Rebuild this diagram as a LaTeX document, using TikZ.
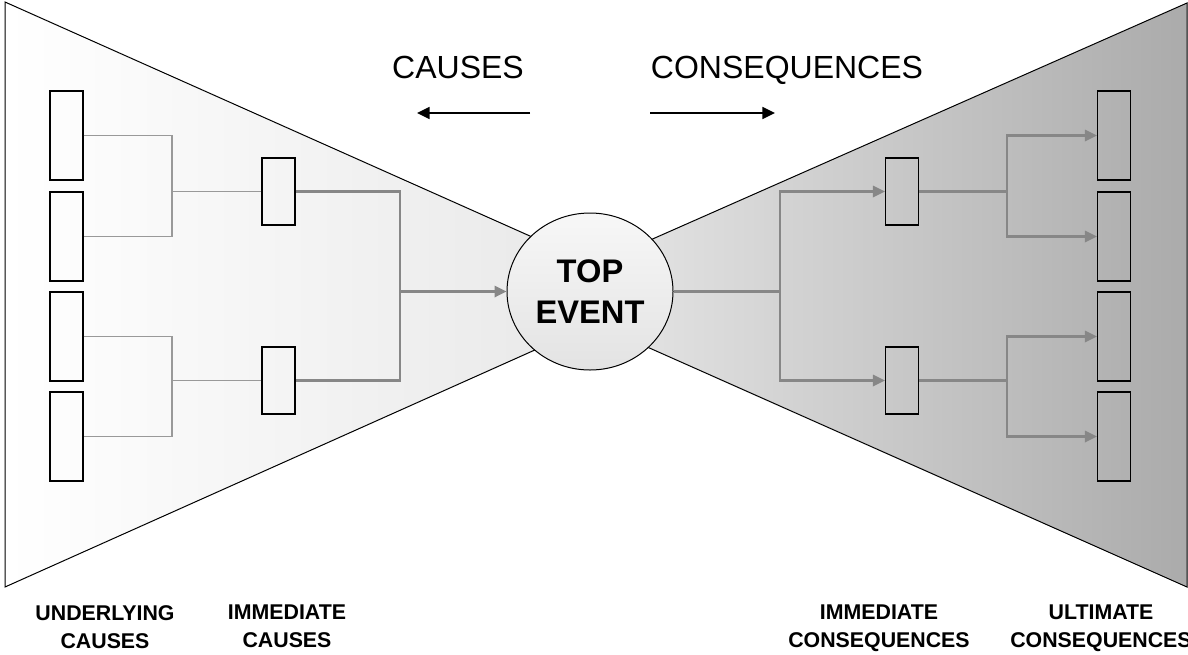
\documentclass[tikz,border=0pt]{standalone}
\usepackage{fontspec}
\setmainfont{Liberation Sans}
\usepackage{tikz}
\usetikzlibrary{arrows.meta,shapes.geometric}
\tikzset{
  wedge/.style    = {draw=black,line width=0.75pt},
  tallbox/.style  = {draw=black,line width=0.8pt,inner sep=0pt,
                     minimum width=24.75pt,minimum height=66.75pt},
  shortbox/.style = {draw=black,line width=0.8pt,inner sep=0pt,
                     minimum width=24.75pt,minimum height=50.25pt},
  thinlink/.style = {black!40,line width=0.8pt},
  link/.style     = {black!47,line width=1.7pt},
  linkarr/.style  = {link,-{Triangle[length=9pt,width=8.5pt]}},
  dirarr/.style   = {-{Triangle[length=9.5pt,width=9pt]},line width=1.2pt},
  headlab/.style  = {anchor=base,font=\fontsize{24}{29}\selectfont},
  footlab/.style  = {anchor=north,align=center,inner sep=0pt,
                     font=\bfseries\fontsize{16}{21}\selectfont}
}

\begin{document}
\begin{tikzpicture}[x=0.75pt,y=-0.75pt]
  \useasboundingbox (0,0) rectangle (1188,654);

  % the two wedges of the bow tie
  \shade[wedge,left color=white,right color=black!10]
    (5,2) -- (660,294) -- (5,587) -- cycle;
  \shade[wedge,left color=black!7,right color=black!33]
    (1187,3) -- (528,294) -- (1187,587) -- cycle;

  \node[ellipse,draw=black,line width=0.75pt,top color=black!3,bottom color=black!11,
        minimum width=124.5pt,minimum height=117.75pt,inner sep=0pt,align=center,
        font=\bfseries\fontsize{24.5}{30.5}\selectfont] (top) at (590,291.5) {TOP\\EVENT};

  % causes side
  \node[tallbox]  (uc1) at (66.5,135.5) {};
  \node[tallbox]  (uc2) at (66.5,236.5) {};
  \node[tallbox]  (uc3) at (66.5,336.5) {};
  \node[tallbox]  (uc4) at (66.5,436.5) {};
  \node[shortbox] (ic1) at (278.5,191.5) {};
  \node[shortbox] (ic2) at (278.5,380.5) {};

  \coordinate (jc1) at (172,191.5);
  \coordinate (jc2) at (172,380.5);
  \coordinate (jt)  at (400,291.5);
  \draw[thinlink] (uc1.east) -| (jc1) |- (uc2.east);
  \draw[thinlink] (uc3.east) -| (jc2) |- (uc4.east);
  \draw[thinlink] (jc1) -- (ic1.west);
  \draw[thinlink] (jc2) -- (ic2.west);
  \draw[link] (ic1.east) -| (jt) |- (ic2.east);
  \draw[linkarr] (jt) -- (top.west);

  % consequences side
  \node[shortbox] (icq1) at (902,191.5) {};
  \node[shortbox] (icq2) at (902,380.5) {};
  \node[tallbox]  (ucq1) at (1114,135.5) {};
  \node[tallbox]  (ucq2) at (1114,236.5) {};
  \node[tallbox]  (ucq3) at (1114,336.5) {};
  \node[tallbox]  (ucq4) at (1114,436.5) {};

  \coordinate (jq)  at (780,291.5);
  \coordinate (jq1) at (1007,191.5);
  \coordinate (jq2) at (1007,380.5);
  \draw[link] (top.east) -- (jq);
  \draw[linkarr] (jq) |- (icq1.west);
  \draw[linkarr] (jq) |- (icq2.west);
  \draw[link] (icq1.east) -- (jq1);
  \draw[link] (icq2.east) -- (jq2);
  \draw[linkarr] (jq1) |- (ucq1.west);
  \draw[linkarr] (jq1) |- (ucq2.west);
  \draw[linkarr] (jq2) |- (ucq3.west);
  \draw[linkarr] (jq2) |- (ucq4.west);

  % direction headings
  \node[headlab] (hcause) at (458,78.5) {CAUSES};
  \node[headlab] (hconseq) at (787,78.5) {CONSEQUENCES};
  \coordinate (ca0) at (530,113);
  \coordinate (ca1) at (417,113);
  \coordinate (cq0) at (650,113);
  \coordinate (cq1) at (775,113);
  \draw[dirarr] (ca0) -- (ca1);
  \draw[dirarr] (cq0) -- (cq1);

  % column labels
  \node[footlab] (lbuc)  at (105,605)  {UNDERLYING\\CAUSES};
  \node[footlab] (lbic)  at (287,605)  {IMMEDIATE\\CAUSES};
  \node[footlab] (lbicq) at (879,605)  {IMMEDIATE\\CONSEQUENCES};
  \node[footlab] (lbucq) at (1101,605) {ULTIMATE\\CONSEQUENCES};
\end{tikzpicture}
\end{document}
